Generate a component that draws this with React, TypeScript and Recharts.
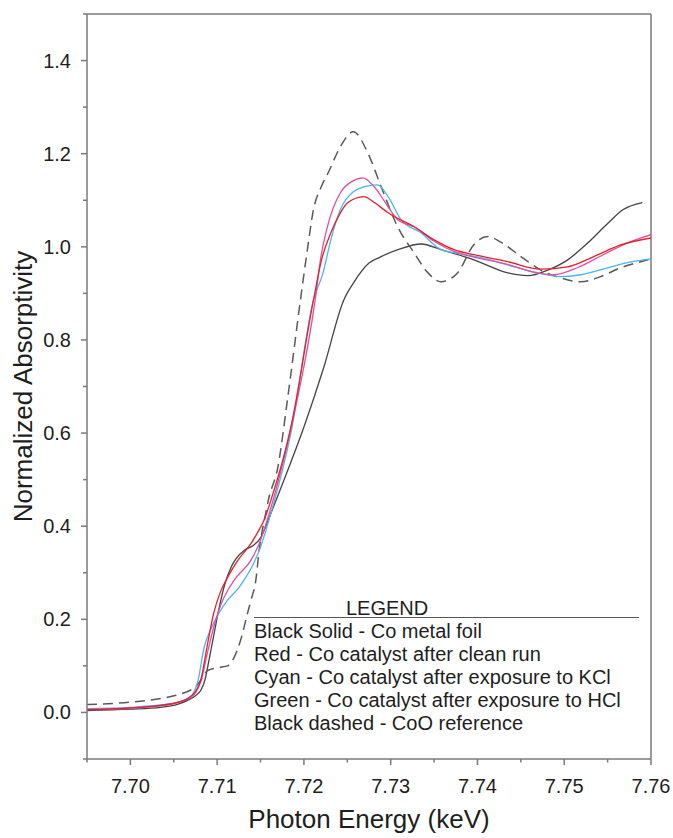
import { LineChart, Line, XAxis, YAxis, ReferenceLine } from "recharts";

// ── Styling ──────────────────────────────────────────────────

const FONT = "'Liberation Sans', Arial, sans-serif";
const AXIS = "#7a7a7a";
const TEXT = "#1e1e1e";

// ── Data ─────────────────────────────────────────────────────

const xTicks = [7.695, 7.7, 7.705, 7.71, 7.715, 7.72, 7.725, 7.73, 7.735, 7.74, 7.745, 7.75, 7.755, 7.76];
const yTicks = [-0.1, 0, 0.1, 0.2, 0.3, 0.4, 0.5, 0.6, 0.7, 0.8, 0.9, 1.0, 1.1, 1.2, 1.3, 1.4, 1.5];

// Black solid – Co metal foil
const foilE = [7.695, 7.7, 7.7035, 7.7055, 7.7066, 7.7075, 7.7081, 7.7086, 7.7089, 7.7095, 7.7101, 7.7108, 7.7116, 7.7122, 7.7131, 7.7142, 7.715, 7.7162, 7.7177, 7.72, 7.7223, 7.7246, 7.7257, 7.7275, 7.7289, 7.731, 7.7335, 7.7358, 7.7396, 7.7435, 7.7458, 7.7481, 7.7504, 7.7527, 7.755, 7.7568, 7.759];
const foilA = [0.004, 0.007, 0.011, 0.018, 0.026, 0.036, 0.047, 0.07, 0.097, 0.155, 0.213, 0.27, 0.312, 0.331, 0.348, 0.359, 0.375, 0.428, 0.499, 0.613, 0.742, 0.886, 0.922, 0.965, 0.979, 0.995, 1.006, 0.994, 0.972, 0.944, 0.938, 0.95, 0.972, 1.008, 1.05, 1.08, 1.095];

// Red – clean run
const cleanE = [7.695, 7.7, 7.7035, 7.7055, 7.7066, 7.7075, 7.7081, 7.7089, 7.7096, 7.7104, 7.7112, 7.7124, 7.7139, 7.7148, 7.7154, 7.7162, 7.7185, 7.7211, 7.722, 7.7231, 7.7242, 7.725, 7.7269, 7.7282, 7.7297, 7.7327, 7.735, 7.7373, 7.7396, 7.7435, 7.7473, 7.7504, 7.7534, 7.7565, 7.76];
const cleanA = [0.006, 0.01, 0.015, 0.022, 0.03, 0.045, 0.069, 0.148, 0.213, 0.26, 0.29, 0.327, 0.363, 0.391, 0.413, 0.456, 0.613, 0.886, 0.97, 1.03, 1.073, 1.094, 1.108, 1.094, 1.073, 1.043, 1.015, 0.994, 0.983, 0.968, 0.952, 0.957, 0.979, 1.004, 1.019];

// Cyan – after KCl
const kclE = [7.695, 7.7, 7.7035, 7.7055, 7.7066, 7.7072, 7.7078, 7.7085, 7.7093, 7.7101, 7.7112, 7.7125, 7.7133, 7.7142, 7.715, 7.7162, 7.7185, 7.7211, 7.7222, 7.7231, 7.7242, 7.7257, 7.7274, 7.7285, 7.7297, 7.7312, 7.7335, 7.7358, 7.7381, 7.7404, 7.7435, 7.7465, 7.7496, 7.7519, 7.755, 7.7573, 7.76];
const kclA = [0.008, 0.011, 0.016, 0.022, 0.03, 0.04, 0.069, 0.14, 0.18, 0.21, 0.241, 0.268, 0.29, 0.32, 0.355, 0.428, 0.6, 0.886, 0.944, 1.015, 1.08, 1.118, 1.131, 1.133, 1.108, 1.058, 1.03, 0.994, 0.985, 0.977, 0.961, 0.946, 0.936, 0.94, 0.955, 0.966, 0.974];

// Magenta ("Green") – after HCl
const hclE = [7.695, 7.7, 7.7035, 7.7055, 7.7066, 7.7075, 7.7081, 7.7089, 7.7097, 7.7105, 7.7113, 7.7122, 7.7139, 7.715, 7.7162, 7.7185, 7.7214, 7.7219, 7.7227, 7.7242, 7.7255, 7.7268, 7.7281, 7.7297, 7.7308, 7.7327, 7.735, 7.7373, 7.7396, 7.7435, 7.7465, 7.7488, 7.7515, 7.7545, 7.7575, 7.76];
const hclA = [0.006, 0.009, 0.014, 0.021, 0.029, 0.042, 0.065, 0.13, 0.19, 0.235, 0.265, 0.29, 0.327, 0.37, 0.44, 0.61, 0.9, 0.972, 1.043, 1.116, 1.14, 1.148, 1.129, 1.086, 1.058, 1.043, 1.012, 0.99, 0.978, 0.962, 0.945, 0.94, 0.955, 0.983, 1.01, 1.026];

// Black dashed – CoO reference
const cooE = [7.695, 7.7, 7.7035, 7.7055, 7.7066, 7.7075, 7.7081, 7.7089, 7.7104, 7.7112, 7.7119, 7.7127, 7.7135, 7.7139, 7.7145, 7.7148, 7.7156, 7.7159, 7.717, 7.7181, 7.7196, 7.7204, 7.7211, 7.722, 7.7228, 7.7242, 7.7257, 7.7274, 7.7289, 7.7308, 7.7327, 7.7343, 7.7358, 7.7377, 7.7396, 7.7412, 7.7427, 7.745, 7.7473, 7.7496, 7.7519, 7.7542, 7.7565, 7.7588, 7.76];
const cooA = [0.017, 0.022, 0.03, 0.038, 0.045, 0.055, 0.069, 0.09, 0.097, 0.1, 0.116, 0.155, 0.213, 0.241, 0.29, 0.342, 0.428, 0.456, 0.527, 0.671, 0.886, 0.994, 1.08, 1.129, 1.159, 1.215, 1.247, 1.2, 1.129, 1.043, 0.987, 0.944, 0.925, 0.944, 1.005, 1.022, 1.01, 0.979, 0.95, 0.933, 0.925, 0.936, 0.955, 0.968, 0.974];

const legendLines = [
  "Black Solid - Co metal foil",
  "Red - Co catalyst after clean run",
  "Cyan - Co catalyst after exposure to KCl",
  "Green - Co catalyst after exposure to HCl",
  "Black dashed - CoO reference",
];

const toPoints = (e: number[], a: number[]) => e.map((x, i) => ({ e: x, a: a[i] }));

// ── Ticks ────────────────────────────────────────────────────

function XTick({ x, y, payload }: any) {
  const v: number = payload.value;
  const major = Math.abs(v * 100 - Math.round(v * 100)) < 1e-6;
  return (
    <g>
      <line x1={x} x2={x} y1={y} y2={y + (major ? 6 : 3.5)} stroke={AXIS} strokeWidth={1.5} />
      {major && (
        <text x={x} y={y + 34} textAnchor="middle" fontSize={20} fill={TEXT} fontFamily={FONT}>
          {v.toFixed(2)}
        </text>
      )}
    </g>
  );
}

function YTick({ x, y, payload }: any) {
  const v: number = payload.value;
  const major = Math.abs(v * 5 - Math.round(v * 5)) < 1e-6;
  return (
    <g>
      <line x1={x} x2={x - (major ? 6 : 4)} y1={y} y2={y} stroke={AXIS} strokeWidth={1.5} />
      {major && (
        <text x={x - 16} y={y + 7} textAnchor="end" fontSize={20} fill={TEXT} fontFamily={FONT}>
          {v.toFixed(1)}
        </text>
      )}
    </g>
  );
}

// ── Chart ────────────────────────────────────────────────────

export default function App() {
  return (
    <div style={{ position: "relative", width: 673, height: 838, overflow: "hidden", background: "#fff" }}>
      <style>{"html,body{margin:0;padding:0;overflow:hidden}"}</style>
      <LineChart width={673} height={838} margin={{ top: 14, right: 22, bottom: 0, left: 0 }}>
        <XAxis
          type="number"
          dataKey="e"
          domain={[7.695, 7.76]}
          ticks={xTicks}
          allowDataOverflow
          height={79}
          tickSize={0}
          tickMargin={0}
          tickLine={false}
          axisLine={{ stroke: AXIS, strokeWidth: 1.5 }}
          tick={<XTick />}
          interval={0}
          label={{
            value: "Photon Energy (keV)",
            content: ({ viewBox }: any) => (
              <text
                x={viewBox.x + viewBox.width / 2}
                y={viewBox.y + 69}
                textAnchor="middle"
                fontSize={26}
                fill={TEXT}
                fontFamily={FONT}
              >
                Photon Energy (keV)
              </text>
            ),
          }}
        />
        <YAxis
          type="number"
          domain={[-0.1, 1.5]}
          ticks={yTicks}
          allowDataOverflow
          width={87}
          tickSize={0}
          tickMargin={0}
          tickLine={false}
          axisLine={{ stroke: AXIS, strokeWidth: 1.5 }}
          tick={<YTick />}
          interval={0}
          label={{
            value: "Normalized Absorptivity",
            content: ({ viewBox }: any) => {
              const cx = 32;
              const cy = viewBox.y + viewBox.height / 2;
              return (
                <text
                  x={cx}
                  y={cy}
                  transform={`rotate(-90 ${cx} ${cy})`}
                  textAnchor="middle"
                  fontSize={26}
                  fill={TEXT}
                  fontFamily={FONT}
                >
                  Normalized Absorptivity
                </text>
              );
            },
          }}
        />
        <ReferenceLine y={1.5} stroke={AXIS} strokeWidth={1.5} ifOverflow="visible" />
        <ReferenceLine x={7.76} stroke={AXIS} strokeWidth={1.5} ifOverflow="visible" />

        <Line data={toPoints(foilE, foilA)} dataKey="a" type="monotone" stroke="#444444" strokeWidth={1.3} dot={false} isAnimationActive={false} />
        <Line data={toPoints(cooE, cooA)} dataKey="a" type="monotone" stroke="#5a5a5a" strokeWidth={1.5} strokeDasharray="10 6" dot={false} isAnimationActive={false} />
        <Line data={toPoints(kclE, kclA)} dataKey="a" type="monotone" stroke="#4cb4ee" strokeWidth={1.3} dot={false} isAnimationActive={false} />
        <Line data={toPoints(hclE, hclA)} dataKey="a" type="monotone" stroke="#e0509e" strokeWidth={1.3} dot={false} isAnimationActive={false} />
        <Line data={toPoints(cleanE, cleanA)} dataKey="a" type="monotone" stroke="#e3202c" strokeWidth={1.3} dot={false} isAnimationActive={false} />
      </LineChart>

      {/* text legend box */}
      <div
        style={{
          position: "absolute",
          left: 346,
          top: 596.5,
          fontFamily: FONT,
          fontSize: 20,
          lineHeight: "23px",
          color: TEXT,
          whiteSpace: "nowrap",
        }}
      >
        LEGEND
      </div>
      <div style={{ position: "absolute", left: 254, top: 617, width: 385, borderTop: "1.5px solid #555" }} />
      <div
        style={{
          position: "absolute",
          left: 254,
          top: 619.5,
          fontFamily: FONT,
          fontSize: 20,
          lineHeight: "23px",
          color: TEXT,
          whiteSpace: "nowrap",
        }}
      >
        {legendLines.map((t) => (
          <div key={t}>{t}</div>
        ))}
      </div>
    </div>
  );
}
